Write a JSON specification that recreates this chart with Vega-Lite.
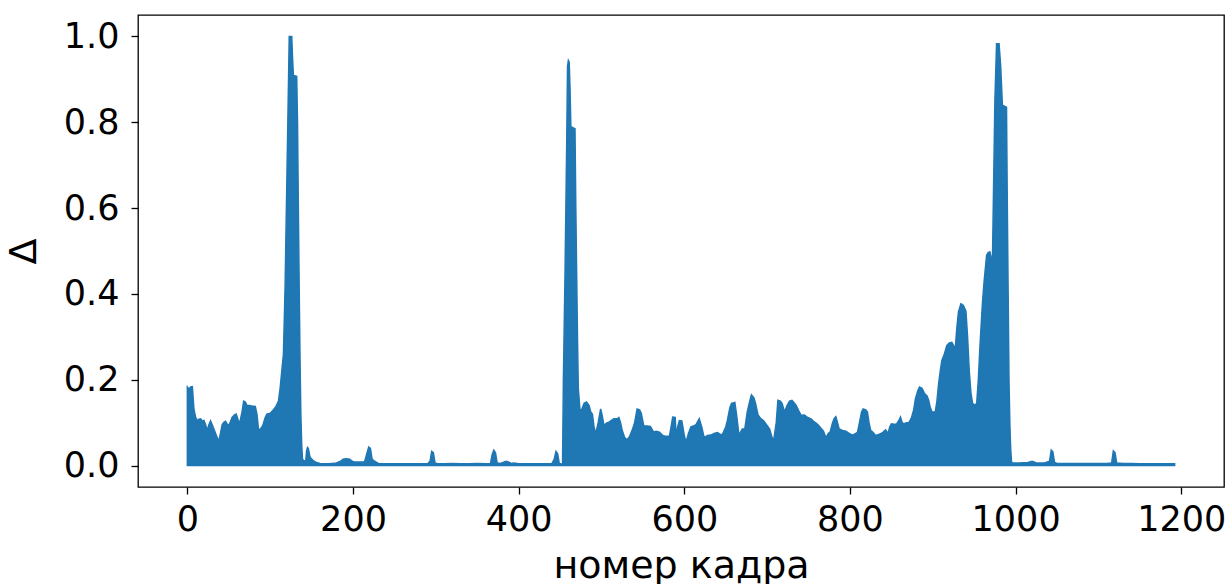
{
  "$schema": "https://vega.github.io/schema/vega-lite/v6.json",
  "width": 1086,
  "height": 472,
  "autosize": {"type": "none"},
  "padding": {"left": 138, "top": 15, "right": 8, "bottom": 97},
  "background": "white",
  "config": {
    "view": {"stroke": "#000", "strokeWidth": 1.3},
    "font": "DejaVu Sans",
    "axis": {
      "grid": false,
      "domain": false,
      "tickColor": "#000",
      "tickWidth": 1.3,
      "tickSize": 7,
      "labelFont": "DejaVu Sans",
      "labelFontSize": 35,
      "labelColor": "#000",
      "titleFont": "DejaVu Sans",
      "titleFontSize": 38,
      "titleFontWeight": "normal",
      "titleColor": "#000"
    }
  },
  "data": {
    "values": [
      {"f":0,"d":0.183},{"f":2,"d":0.178},{"f":4,"d":0.183},{"f":6,"d":0.184},{"f":8,"d":0.13},{"f":10,"d":0.112},
      {"f":12,"d":0.105},{"f":14,"d":0.108},{"f":16,"d":0.109},{"f":18,"d":0.104},{"f":20,"d":0.105},{"f":22,"d":0.095},
      {"f":24,"d":0.082},{"f":26,"d":0.095},{"f":28,"d":0.104},{"f":30,"d":0.095},{"f":32,"d":0.085},{"f":35,"d":0.07},
      {"f":38,"d":0.056},{"f":40,"d":0.075},{"f":42,"d":0.095},{"f":44,"d":0.101},{"f":46,"d":0.103},{"f":48,"d":0.097},
      {"f":50,"d":0.093},{"f":52,"d":0.102},{"f":54,"d":0.112},{"f":57,"d":0.118},{"f":59,"d":0.12},{"f":61,"d":0.108},
      {"f":63,"d":0.097},{"f":66,"d":0.125},{"f":68,"d":0.15},{"f":70,"d":0.148},{"f":72,"d":0.14},{"f":75,"d":0.14},
      {"f":78,"d":0.139},{"f":82,"d":0.138},{"f":84,"d":0.12},{"f":86,"d":0.082},{"f":88,"d":0.085},{"f":91,"d":0.093},
      {"f":94,"d":0.112},{"f":96,"d":0.12},{"f":100,"d":0.122},{"f":104,"d":0.13},{"f":107,"d":0.138},{"f":110,"d":0.15},
      {"f":112,"d":0.18},{"f":114,"d":0.22},{"f":116,"d":0.26},{"f":118,"d":0.416},{"f":120,"d":0.649},{"f":122,"d":0.88},
      {"f":123,"d":1.0},{"f":126,"d":1.0},{"f":127,"d":0.95},{"f":128,"d":0.909},{"f":132,"d":0.907},{"f":133,"d":0.8},
      {"f":134,"d":0.6},{"f":135,"d":0.416},{"f":136,"d":0.25},{"f":137,"d":0.12},{"f":138,"d":0.05},{"f":139,"d":0.015},
      {"f":141,"d":0.01},{"f":143,"d":0.012},{"f":144,"d":0.035},{"f":145,"d":0.042},{"f":146,"d":0.04},{"f":148,"d":0.02},
      {"f":150,"d":0.015},{"f":153,"d":0.01},{"f":156,"d":0.007},{"f":160,"d":0.005},{"f":165,"d":0.004},{"f":170,"d":0.004},
      {"f":175,"d":0.005},{"f":180,"d":0.006},{"f":185,"d":0.01},{"f":188,"d":0.015},{"f":192,"d":0.016},{"f":196,"d":0.015},
      {"f":199,"d":0.01},{"f":202,"d":0.008},{"f":205,"d":0.008},{"f":210,"d":0.008},{"f":214,"d":0.009},{"f":217,"d":0.03},
      {"f":219,"d":0.043},{"f":221,"d":0.04},{"f":223,"d":0.015},{"f":226,"d":0.01},{"f":229,"d":0.007},{"f":232,"d":0.004},
      {"f":240,"d":0.004},{"f":250,"d":0.004},{"f":260,"d":0.004},{"f":270,"d":0.004},{"f":280,"d":0.004},{"f":290,"d":0.004},
      {"f":293,"d":0.01},{"f":295,"d":0.033},{"f":297,"d":0.03},{"f":299,"d":0.006},{"f":302,"d":0.004},{"f":310,"d":0.004},
      {"f":320,"d":0.005},{"f":330,"d":0.004},{"f":340,"d":0.004},{"f":350,"d":0.005},{"f":360,"d":0.004},{"f":366,"d":0.005},
      {"f":368,"d":0.025},{"f":370,"d":0.036},{"f":372,"d":0.03},{"f":374,"d":0.006},{"f":378,"d":0.005},{"f":382,"d":0.008},
      {"f":385,"d":0.01},{"f":388,"d":0.008},{"f":391,"d":0.005},{"f":394,"d":0.006},{"f":400,"d":0.004},{"f":410,"d":0.004},
      {"f":420,"d":0.004},{"f":430,"d":0.004},{"f":440,"d":0.004},{"f":443,"d":0.015},{"f":445,"d":0.033},{"f":447,"d":0.028},
      {"f":449,"d":0.005},{"f":452,"d":0.003},{"f":453,"d":0.005},{"f":454,"d":0.2},{"f":456,"d":0.45},{"f":458,"d":0.75},
      {"f":459,"d":0.93},{"f":460,"d":0.944},{"f":461,"d":0.94},{"f":462,"d":0.88},{"f":463,"d":0.79},{"f":468,"d":0.785},
      {"f":469,"d":0.6},{"f":470,"d":0.45},{"f":471,"d":0.3},{"f":472,"d":0.18},{"f":474,"d":0.13},{"f":476,"d":0.13},
      {"f":479,"d":0.145},{"f":482,"d":0.148},{"f":485,"d":0.14},{"f":487,"d":0.125},{"f":489,"d":0.12},{"f":491,"d":0.09},
      {"f":493,"d":0.074},{"f":496,"d":0.1},{"f":499,"d":0.132},{"f":501,"d":0.115},{"f":503,"d":0.093},{"f":506,"d":0.099},
      {"f":509,"d":0.101},{"f":512,"d":0.105},{"f":515,"d":0.109},{"f":519,"d":0.109},{"f":521,"d":0.112},{"f":523,"d":0.1},
      {"f":525,"d":0.082},{"f":528,"d":0.065},{"f":531,"d":0.06},{"f":534,"d":0.068},{"f":537,"d":0.082},{"f":540,"d":0.1},
      {"f":543,"d":0.132},{"f":546,"d":0.13},{"f":548,"d":0.122},{"f":551,"d":0.093},{"f":555,"d":0.092},{"f":559,"d":0.091},
      {"f":563,"d":0.078},{"f":566,"d":0.08},{"f":570,"d":0.078},{"f":574,"d":0.07},{"f":578,"d":0.068},{"f":582,"d":0.068},
      {"f":584,"d":0.09},{"f":586,"d":0.113},{"f":589,"d":0.112},{"f":590,"d":0.07},{"f":592,"d":0.09},{"f":594,"d":0.105},
      {"f":597,"d":0.104},{"f":600,"d":0.07},{"f":602,"d":0.054},{"f":605,"d":0.075},{"f":608,"d":0.09},{"f":611,"d":0.092},
      {"f":614,"d":0.095},{"f":618,"d":0.109},{"f":621,"d":0.09},{"f":624,"d":0.065},{"f":628,"d":0.07},{"f":632,"d":0.071},
      {"f":636,"d":0.075},{"f":640,"d":0.077},{"f":643,"d":0.073},{"f":646,"d":0.072},{"f":650,"d":0.09},{"f":652,"d":0.105},
      {"f":655,"d":0.135},{"f":657,"d":0.145},{"f":661,"d":0.147},{"f":663,"d":0.12},{"f":666,"d":0.071},{"f":670,"d":0.085},
      {"f":673,"d":0.085},{"f":676,"d":0.125},{"f":679,"d":0.15},{"f":681,"d":0.165},{"f":684,"d":0.158},{"f":686,"d":0.145},
      {"f":689,"d":0.118},{"f":692,"d":0.11},{"f":696,"d":0.104},{"f":699,"d":0.096},{"f":703,"d":0.085},{"f":706,"d":0.065},
      {"f":708,"d":0.06},{"f":711,"d":0.1},{"f":713,"d":0.152},{"f":716,"d":0.15},{"f":718,"d":0.145},{"f":721,"d":0.125},
      {"f":724,"d":0.14},{"f":727,"d":0.15},{"f":730,"d":0.152},{"f":733,"d":0.145},{"f":735,"d":0.14},{"f":738,"d":0.128},
      {"f":741,"d":0.117},{"f":745,"d":0.118},{"f":749,"d":0.112},{"f":753,"d":0.109},{"f":756,"d":0.103},{"f":759,"d":0.099},
      {"f":762,"d":0.094},{"f":765,"d":0.087},{"f":768,"d":0.08},{"f":771,"d":0.065},{"f":774,"d":0.075},{"f":776,"d":0.078},
      {"f":779,"d":0.1},{"f":781,"d":0.11},{"f":783,"d":0.114},{"f":785,"d":0.1},{"f":787,"d":0.085},{"f":791,"d":0.082},
      {"f":795,"d":0.08},{"f":799,"d":0.075},{"f":803,"d":0.071},{"f":806,"d":0.074},{"f":809,"d":0.077},{"f":811,"d":0.095},
      {"f":814,"d":0.125},{"f":816,"d":0.132},{"f":819,"d":0.13},{"f":821,"d":0.125},{"f":823,"d":0.1},{"f":825,"d":0.082},
      {"f":828,"d":0.077},{"f":831,"d":0.07},{"f":834,"d":0.072},{"f":837,"d":0.074},{"f":840,"d":0.078},{"f":843,"d":0.083},
      {"f":846,"d":0.075},{"f":848,"d":0.09},{"f":850,"d":0.097},{"f":853,"d":0.096},{"f":856,"d":0.096},{"f":859,"d":0.105},
      {"f":861,"d":0.113},{"f":863,"d":0.1},{"f":865,"d":0.097},{"f":868,"d":0.1},{"f":871,"d":0.1},{"f":874,"d":0.11},
      {"f":877,"d":0.13},{"f":879,"d":0.155},{"f":882,"d":0.175},{"f":884,"d":0.183},{"f":887,"d":0.18},{"f":890,"d":0.168},
      {"f":893,"d":0.162},{"f":895,"d":0.152},{"f":897,"d":0.135},{"f":899,"d":0.125},{"f":903,"d":0.125},{"f":905,"d":0.15},
      {"f":907,"d":0.19},{"f":909,"d":0.22},{"f":911,"d":0.245},{"f":914,"d":0.26},{"f":917,"d":0.28},{"f":920,"d":0.286},
      {"f":923,"d":0.287},{"f":925,"d":0.28},{"f":927,"d":0.27},{"f":929,"d":0.32},{"f":931,"d":0.358},{"f":934,"d":0.377},
      {"f":937,"d":0.373},{"f":940,"d":0.36},{"f":942,"d":0.3},{"f":944,"d":0.22},{"f":946,"d":0.17},{"f":948,"d":0.145},
      {"f":951,"d":0.14},{"f":953,"d":0.145},{"f":955,"d":0.2},{"f":957,"d":0.28},{"f":960,"d":0.38},{"f":962,"d":0.43},
      {"f":965,"d":0.49},{"f":967,"d":0.497},{"f":969,"d":0.498},{"f":971,"d":0.48},{"f":972,"d":0.47},{"f":973,"d":0.6},
      {"f":975,"d":0.85},{"f":977,"d":0.983},{"f":980,"d":0.983},{"f":982,"d":0.93},{"f":984,"d":0.84},{"f":989,"d":0.835},
      {"f":990,"d":0.6},{"f":991,"d":0.4},{"f":992,"d":0.2},{"f":993,"d":0.1},{"f":994,"d":0.04},{"f":995,"d":0.01},
      {"f":996,"d":0.006},{"f":1005,"d":0.006},{"f":1015,"d":0.007},{"f":1020,"d":0.01},{"f":1025,"d":0.006},{"f":1035,"d":0.006},
      {"f":1041,"d":0.01},{"f":1043,"d":0.036},{"f":1045,"d":0.032},{"f":1047,"d":0.007},{"f":1050,"d":0.005},{"f":1060,"d":0.005},
      {"f":1070,"d":0.005},{"f":1080,"d":0.005},{"f":1090,"d":0.005},{"f":1100,"d":0.005},{"f":1110,"d":0.005},{"f":1116,"d":0.006},
      {"f":1118,"d":0.034},{"f":1120,"d":0.03},{"f":1122,"d":0.006},{"f":1130,"d":0.005},{"f":1140,"d":0.005},{"f":1150,"d":0.004},
      {"f":1160,"d":0.004},{"f":1170,"d":0.004},{"f":1180,"d":0.004},{"f":1192,"d":0.004}
    ]
  },
  "mark": {"type": "area", "color": "#1f77b4", "opacity": 1, "stroke": "#1f77b4", "strokeWidth": 1.5, "interpolate": "linear"},
  "encoding": {
    "x": {
      "field": "f", "type": "quantitative",
      "scale": {"domain": [-59.6, 1251.6], "nice": false, "zero": false},
      "axis": {"values": [0, 200, 400, 600, 800, 1000, 1200], "format": "d", "title": "номер кадра", "labelPadding": 8, "titlePadding": 10, "labelFlush": false}
    },
    "y": {
      "field": "d", "type": "quantitative",
      "scale": {"domain": [-0.05, 1.05], "nice": false, "zero": false},
      "axis": {"values": [0, 0.2, 0.4, 0.6, 0.8, 1.0], "format": ".1f", "title": "Δ", "labelPadding": 12, "titlePadding": 20, "labelFlush": false}
    },
    "y2": {"datum": 0}
  }
}
